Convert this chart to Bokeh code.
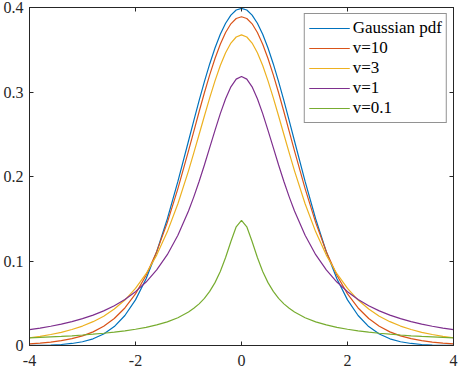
from bokeh.plotting import figure
from bokeh.models import LinearAxis, Legend, LegendItem, FixedTicker, Range1d
from bokeh.embed import file_html
from bokeh.resources import INLINE

# ---- data ----
x = [-4.0, -3.8, -3.6, -3.4, -3.2, -3.0, -2.8, -2.6, -2.4, -2.2, -2.0, -1.8, -1.6, -1.4, -1.2,
     -1.0, -0.9, -0.8, -0.7, -0.6, -0.5, -0.4, -0.3, -0.2, -0.1, 0.0,
     0.1, 0.2, 0.3, 0.4, 0.5, 0.6, 0.7, 0.8, 0.9, 1.0,
     1.2, 1.4, 1.6, 1.8, 2.0, 2.2, 2.4, 2.6, 2.8, 3.0, 3.2, 3.4, 3.6, 3.8, 4.0]

gaussian = [0.0001, 0.0003, 0.0006, 0.0012, 0.0024, 0.0044, 0.0079, 0.0136, 0.0224, 0.0355, 0.0540,
            0.0790, 0.1109, 0.1497, 0.1942, 0.2420, 0.2661, 0.2897, 0.3123, 0.3332, 0.3521, 0.3683,
            0.3814, 0.3910, 0.3970, 0.3989,
            0.3970, 0.3910, 0.3814, 0.3683, 0.3521, 0.3332, 0.3123, 0.2897, 0.2661, 0.2420,
            0.1942, 0.1497, 0.1109, 0.0790, 0.0540, 0.0355, 0.0224, 0.0136, 0.0079, 0.0044,
            0.0024, 0.0012, 0.0006, 0.0003, 0.0001]

t_v10 = [0.0020, 0.0029, 0.0040, 0.0057, 0.0081, 0.0114, 0.0161, 0.0227, 0.0319, 0.0444, 0.0611,
         0.0831, 0.1111, 0.1454, 0.1857, 0.2304, 0.2535, 0.2766, 0.2991, 0.3203, 0.3397, 0.3566,
         0.3704, 0.3807, 0.3870, 0.3891,
         0.3870, 0.3807, 0.3704, 0.3566, 0.3397, 0.3203, 0.2991, 0.2766, 0.2535, 0.2304,
         0.1857, 0.1454, 0.1111, 0.0831, 0.0611, 0.0444, 0.0319, 0.0227, 0.0161, 0.0114,
         0.0081, 0.0057, 0.0040, 0.0029, 0.0020]

t_v3 = [0.0092, 0.0109, 0.0130, 0.0156, 0.0189, 0.0230, 0.0282, 0.0347, 0.0431, 0.0538, 0.0675,
        0.0850, 0.1070, 0.1345, 0.1678, 0.2067, 0.2279, 0.2497, 0.2716, 0.2930, 0.3132, 0.3313,
        0.3465, 0.3579, 0.3651, 0.3676,
        0.3651, 0.3579, 0.3465, 0.3313, 0.3132, 0.2930, 0.2716, 0.2497, 0.2279, 0.2067,
        0.1678, 0.1345, 0.1070, 0.0850, 0.0675, 0.0538, 0.0431, 0.0347, 0.0282, 0.0230,
        0.0189, 0.0156, 0.0130, 0.0109, 0.0092]

t_v1 = [0.0187, 0.0206, 0.0228, 0.0253, 0.0283, 0.0318, 0.0360, 0.0410, 0.0471, 0.0545, 0.0637,
        0.0751, 0.0894, 0.1075, 0.1305, 0.1592, 0.1759, 0.1941, 0.2136, 0.2341, 0.2546, 0.2744,
        0.2920, 0.3061, 0.3152, 0.3183,
        0.3152, 0.3061, 0.2920, 0.2744, 0.2546, 0.2341, 0.2136, 0.1941, 0.1759, 0.1592,
        0.1305, 0.1075, 0.0894, 0.0751, 0.0637, 0.0545, 0.0471, 0.0410, 0.0360, 0.0318,
        0.0283, 0.0253, 0.0228, 0.0206, 0.0187]

t_v01 = [0.0091, 0.0096, 0.0102, 0.0108, 0.0115, 0.0124, 0.0134, 0.0145, 0.0158, 0.0173, 0.0192,
         0.0215, 0.0244, 0.0280, 0.0329, 0.0396, 0.0440, 0.0493, 0.0558, 0.0640, 0.0744, 0.0876,
         0.1041, 0.1231, 0.1405, 0.1481,
         0.1405, 0.1231, 0.1041, 0.0876, 0.0744, 0.0640, 0.0558, 0.0493, 0.0440, 0.0396,
         0.0329, 0.0280, 0.0244, 0.0215, 0.0192, 0.0173, 0.0158, 0.0145, 0.0134, 0.0124,
         0.0115, 0.0108, 0.0102, 0.0096, 0.0091]

series_names = ["Gaussian pdf", "v=10", "v=3", "v=1", "v=0.1"]
series_values = [gaussian, t_v10, t_v3, t_v1, t_v01]
series_colors = ["#0072BD", "#D95319", "#EDB120", "#7E2F8E", "#77AC30"]

x_ticks = [-4, -2, 0, 2, 4]
x_tick_labels = ["-4", "-2", "0", "2", "4"]
y_ticks = [0, 0.1, 0.2, 0.3, 0.4]
y_tick_labels = ["0", "0.1", "0.2", "0.3", "0.4"]

FONT = "Liberation Serif"
AX = "#262626"

p = figure(width=458, height=368, x_range=Range1d(-4, 4), y_range=Range1d(0, 0.4),
           output_backend="svg", toolbar_location=None,
           min_border_left=22, min_border_right=5, min_border_top=7, min_border_bottom=22)
p.xgrid.visible = False
p.ygrid.visible = False
p.outline_line_color = AX
p.outline_line_width = 1
p.background_fill_color = "white"
p.border_fill_color = "white"

def style(ax, ticks, labels, show_labels=True):
    ax.ticker = FixedTicker(ticks=ticks)
    ax.major_label_overrides = {t: l for t, l in zip(ticks, labels)}
    ax.minor_tick_line_color = None
    ax.major_tick_in = 4
    ax.major_tick_out = 0
    ax.major_tick_line_color = AX
    ax.axis_line_color = AX
    ax.major_label_text_font = FONT
    ax.major_label_text_color = AX
    if show_labels:
        ax.major_label_text_font_size = "16px"
        ax.major_label_standoff = 6
    else:
        ax.major_label_overrides = {t: "" for t in ticks}
        ax.major_label_text_font_size = "0px"
        ax.major_label_text_alpha = 0
        ax.major_label_standoff = 0

style(p.xaxis[0], x_ticks, x_tick_labels)
style(p.yaxis[0], y_ticks, y_tick_labels)
p.xaxis[0].major_label_standoff = 9

top_ax = LinearAxis()
right_ax = LinearAxis()
style(top_ax, x_ticks, x_tick_labels, show_labels=False)
style(right_ax, y_ticks, y_tick_labels, show_labels=False)
p.add_layout(top_ax, "above")
p.add_layout(right_ax, "right")

items = []
for name, vals, col in zip(series_names, series_values, series_colors):
    r = p.line(x, vals, line_color=col, line_width=1.2)
    items.append(LegendItem(label=name, renderers=[r]))

legend = Legend(items=items, location="top_right")
legend.label_text_font = FONT
legend.label_text_font_size = "17px"
legend.label_text_color = "black"
legend.glyph_width = 41
legend.glyph_height = 20
legend.label_height = 20
legend.spacing = 0
legend.padding = 4
legend.margin = 6
legend.label_standoff = 3
legend.border_line_color = AX
legend.border_line_width = 1
legend.background_fill_color = "white"
legend.background_fill_alpha = 1
p.add_layout(legend)

open("out.html", "w").write(file_html(p, INLINE))
